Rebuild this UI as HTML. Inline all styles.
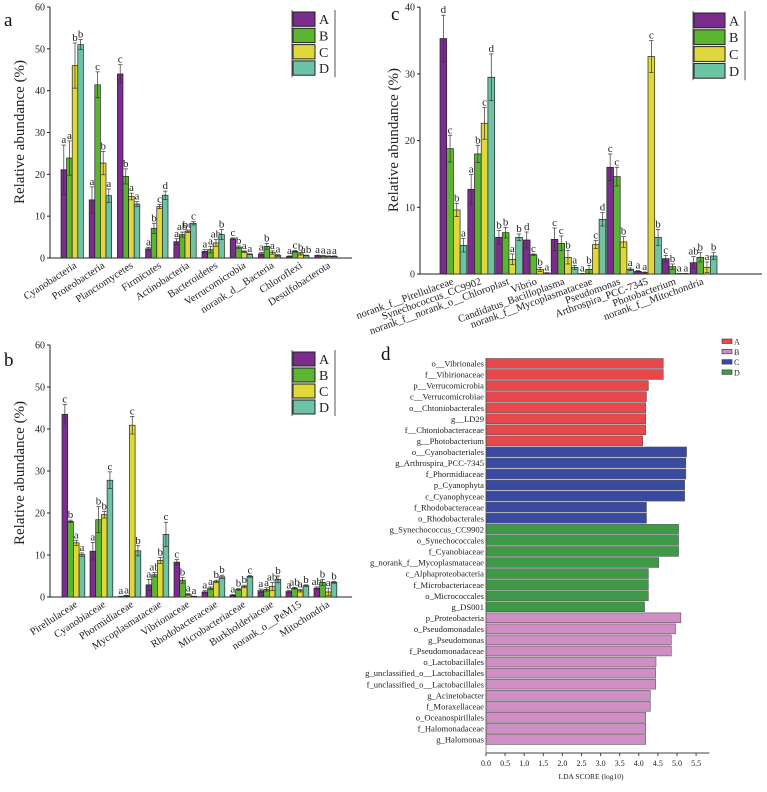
<!DOCTYPE html>
<html><head><meta charset="utf-8"><style>
body{margin:0;background:#fff;}
svg, svg text{font-family:"Liberation Serif","Times New Roman",serif;}
</style></head><body>
<svg id="fig" width="767" height="787" viewBox="0 0 767 787" xmlns="http://www.w3.org/2000/svg" font-family="Liberation Serif, serif">
<rect width="767" height="787" fill="#fff"/>
</svg>
<script>
// ---------- Panel a data ----------
const aCategories=["Cyanobacteria","Proteobacteria","Planctomycetes","Firmicutes","Actinobacteria","Bacteroidetes","Verrucomicrobia","norank_d__Bacteria","Chloroflexi","Desulfobacterota"];
const aValsA=[21.1,13.9,44,2.2,3.9,1.6,4.6,1.0,0.4,0.6];
const aValsB=[23.9,41.4,19.5,7.1,5.6,2.0,2.6,2.8,1.6,0.5];
const aValsC=[46,22.7,14.7,12.3,6.4,3.6,1.5,1.3,1.0,0.4];
const aValsD=[51,14.9,12.9,15,8.3,5.6,0.9,0.6,0.6,0.4];
const aErrA=[27,17,46.2,2.5,4.6,2.0,4.8,1.3,0.5,0.7];
const aErrB=[28,44.5,21.3,8.3,6.2,2.8,2.9,3.5,1.8,0.6];
const aErrC=[51.4,25.5,15.5,12.8,6.7,4.4,1.7,1.7,1.3,0.5];
const aErrD=[52.2,16.5,13.5,16,8.7,6.8,1.0,0.8,0.7,0.5];
const aLetters=[["a","a","b","b"],["a","c","b","a"],["c","b","a","a"],["a","b","c","d"],["a","ab","bc","c"],["a","a","ab","b"],["c","b","a","a"],["a","b","a","a"],["a","c","b","ab"],["a","a","a","a"]];
const aTicks=[0,10,20,30,40,50,60];
// ---------- Panel b data ----------
const bCategories=["Pirellulaceae","Cyanobiaceae","Phormidiaceae","Mycoplasmataceae","Vibrionaceae","Rhodobacteraceae","Microbacteriaceae","Burkholderiaceae","norank_o__PeM15","Mitochondria"];
const bValsA=[43.5,10.9,0.1,2.9,8.3,1.2,0.4,1.5,1.3,2.1];
const bValsB=[18,18.4,0.3,5.3,4.0,2.1,1.8,1.8,2.1,3.5];
const bValsC=[12.9,19.6,40.9,8.7,0.6,3.7,2.5,2.5,1.5,1.2];
const bValsD=[10.1,27.8,11,14.9,0.15,4.8,4.9,4.2,2.7,3.5];
const bErrA=[45.8,13,0.2,4.2,8.9,1.5,0.6,1.9,1.6,2.4];
const bErrB=[18.3,21.5,0.4,5.8,4.7,2.4,2.0,2.2,2.3,4.2];
const bErrC=[13.5,20.4,43,9.4,0.8,4.0,2.8,3.5,1.8,2.1];
const bErrD=[10.5,29.8,12.2,17.8,0.2,5.2,5.1,5.0,2.9,3.7];
const bLetters=[["c","b","a","a"],["a","b","b","c"],["a","a","c","b"],["a","ab","b","c"],["c","b","a","a"],["a","a","b","b"],["a","b","b","c"],["a","a","ab","b"],["a","ab","a","b"],["ab","b","a","b"]];
const bTicks=[0,10,20,30,40,50,60];
// ---------- Panel c data ----------
const cCategories=["norank_f__Pirellulaceae","Synechococcus_CC9902","norank_f__norank_o__Chloroplast","Vibrio","Candidatus_Bacilloplasma","norank_f__Mycoplasmataceae","Pseudomonas","Arthrospira_PCC-7345","Photobacterium","norank_f__Mitochondria"];
const cValsA=[35.3,12.7,5.5,5.1,5.2,0.05,16,0.4,2.3,1.7];
const cValsB=[18.8,18,6.2,2.9,4.6,0.7,14.6,0.2,1.1,2.5];
const cValsC=[9.6,22.6,2.2,0.7,2.5,4.4,4.8,32.6,0.05,1.0];
const cValsD=[4.3,29.5,5.5,0.15,1.0,8.2,0.7,5.5,0.05,2.7];
const cErrA=[38.8,14.9,6.5,6.3,6.9,0.1,18,0.5,2.8,2.6];
const cErrB=[20.8,19.3,7,3.0,5.7,1.3,16,0.3,1.5,3.2];
const cErrC=[10.6,25,3,1.0,3.5,5.0,5.6,35,0.1,1.8];
const cErrD=[5.3,33,6,0.2,1.3,9.2,0.9,6.7,0.1,3.2];
const cLetters=[["d","c","b","a"],["a","b","c","d"],["b","b","a","b"],["d","c","b","a"],["c","c","b","a"],["a","b","c","d"],["c","c","b","a"],["a","a","c","b"],["c","b","a","a"],["ab","b","a","b"]];
const cTicks=[0,10,20,30,40];
// ---------- Panel d data ----------
const dLabels=["o__Vibrionales","f__Vibirionaceae","p__Verrucomicrobia","c__Verrucomicrobiae","o__Chtoniobacterales","g__LD29","f__Chtoniobacteraceae","g__Photobacterium","o__Cyanobacteriales","g_Arthrospira_PCC-7345","f_Phormidiaceae","p_Cyanophyta","c_Cyanophyceae","f_Rhodobacteraceae","o_Rhodobacterales","g_Synechococcus_CC9902","o_Synechococcales","f_Cyanobiaceae","g_norank_f__Mycoplasmataceae","c_Alphaproteobacteria","f_Microbacteriaceae","o_Micrococcales","g_DS001","p_Proteobacteria","o_Pseudomonadales","g_Pseudomonas","f_Pseudomonadaceae","o_Lactobacillales","g_unclassified_o__Lactobacillales","f_unclassified_o__Lactobacillales","g_Acinetobacter","f_Moraxellaceae","o_Oceanospirillales","f_Halomonadaceae","g_Halomonas"];
const dScores=[4.64,4.64,4.25,4.2,4.18,4.18,4.18,4.1,5.25,5.23,5.23,5.2,5.2,4.2,4.2,5.04,5.04,5.04,4.52,4.25,4.25,4.25,4.15,5.1,4.96,4.85,4.85,4.45,4.44,4.44,4.3,4.3,4.18,4.18,4.18];
const dGroups=["A","A","A","A","A","A","A","A","C","C","C","C","C","C","C","D","D","D","D","D","D","D","D","B","B","B","B","B","B","B","B","B","B","B","B"];
const dTicks=[0,0.5,1,1.5,2,2.5,3,3.5,4,4.5,5,5.5];

const NS="http://www.w3.org/2000/svg";
const svg=document.getElementById('fig');
const SERIF='"Liberation Serif", "Times New Roman", serif';
function mk(tag,attrs,parent,txt){const e=document.createElementNS(NS,tag);for(const k in attrs)e.setAttribute(k,attrs[k]);if(txt!==undefined){e.textContent=txt;e.style.fontFamily=SERIF;}(parent||svg).appendChild(e);return e;}
const COLS=["#7b2d8e","#5cb531","#e0d83a","#6cc4a4"];
const GN=["A","B","C","D"];

function barChart(p){
  const g=mk('g',{});
  
  
  const y=v=>p.y0-v*p.ppu;
  const xg=i=>p.first+i*p.sp;
  const ya=mk('line',{x1:p.x0,y1:p.y0,x2:p.x0,y2:y(p.ticks[p.ticks.length-1]),stroke:'#222','stroke-width':1},g);
  
  
  const xa=mk('line',{x1:p.x0,y1:p.y0,x2:p.xEnd,y2:p.y0,stroke:'#222','stroke-width':1},g);
  
  
  p.ticks.forEach(t=>{
    mk('line',{x1:p.x0-3,y1:y(t),x2:p.x0,y2:y(t),stroke:'#222'},g);
    const tl=mk('text',{x:p.x0-5,y:y(t)+3.5,'text-anchor':'end','font-size':10,fill:'#222'},g,String(t));
    
    
  });
  const tt=mk('text',{x:p.titleX,y:p.titleY,'text-anchor':'middle','font-size':15,fill:'#222',transform:`rotate(-90 ${p.titleX} ${p.titleY})`},g,'Relative abundance (%)');
  
  
  const series=[p.A,p.B,p.C,p.D], errs=[p.eA,p.eB,p.eC,p.eD];
  p.cats.forEach((c,i)=>{
    for(let s=0;s<4;s++){
      const v=series[s][i], e=errs[s][i];
      const bx=xg(i)+s*p.bw;
      const r=mk('rect',{x:bx,y:y(v),width:p.bw,height:Math.max(0.3,v*p.ppu),fill:COLS[s],stroke:'#222','stroke-width':0.7},g);
      
      
      const cx=bx+p.bw/2, lo=Math.max(0,v-(e-v));
      mk('line',{x1:cx,y1:y(lo),x2:cx,y2:y(e),stroke:'#333','stroke-width':0.7},g);
      mk('line',{x1:cx-2.2,y1:y(e),x2:cx+2.2,y2:y(e),stroke:'#333','stroke-width':0.7},g);
      mk('line',{x1:cx-2.2,y1:y(lo),x2:cx+2.2,y2:y(lo),stroke:'#333','stroke-width':0.7},g);
      const lt=mk('text',{x:cx,y:y(e)-2,'text-anchor':'middle','font-size':11,fill:'#222'},g,p.letters[i][s]);
      
      
    }
    const lx=xg(i)+p.sp*0.4+p.lblDx, ly=p.y0+p.lblDy;
    const cl=mk('text',{x:lx,y:ly,'text-anchor':'end','font-size':10.5,fill:'#222',transform:`rotate(${p.rot} ${lx} ${ly})`},g,c);
    
    
  });
  const lg=mk('g',{},g);
  
  
  mk('line',{x1:p.lx-1,y1:p.ly-2,x2:p.lx-1,y2:p.ly+4*p.lh,stroke:'#555'},lg);
  mk('line',{x1:p.lx+p.lw+20,y1:p.ly-2,x2:p.lx+p.lw+20,y2:p.ly+4*p.lh,stroke:'#555'},lg);
  for(let s=0;s<4;s++){
    const e=mk('rect',{x:p.lx,y:p.ly+s*p.lh,width:p.lw,height:p.lh-2,fill:COLS[s],stroke:'#222','stroke-width':1},lg);
    
    
    mk('text',{x:p.lx+p.lw+4,y:p.ly+s*p.lh+p.lh/2+4,'font-size':14,fill:'#222'},lg,GN[s]);
  }
  const pl=mk('text',{x:p.pX,y:p.pY,'font-size':19,fill:'#111'},g,p.panel);
  
  
}

barChart({name:'panel-a-chart',panel:'a',pX:4,pY:26,x0:50,xEnd:352,y0:258,ppu:251/60,first:61,sp:28.2,bw:5.6,ticks:aTicks,titleX:24,titleY:132,
  cats:aCategories,A:aValsA,B:aValsB,C:aValsC,D:aValsD,eA:aErrA,eB:aErrB,eC:aErrC,eD:aErrD,letters:aLetters,rot:-33,lblDx:5,lblDy:9,
  lx:293,ly:12,lw:22,lh:16.3});
barChart({name:'panel-b-chart',panel:'b',pX:4,pY:366,x0:50,xEnd:352,y0:597,ppu:4.2,first:62,sp:28,bw:5.7,ticks:bTicks,titleX:24,titleY:473,
  cats:bCategories,A:bValsA,B:bValsB,C:bValsC,D:bValsD,eA:bErrA,eB:bErrB,eC:bErrC,eD:bErrD,letters:bLetters,rot:-33,lblDx:5,lblDy:9,
  lx:293,ly:352,lw:22,lh:16});
barChart({name:'panel-c-chart',panel:'c',pX:391,pY:20,x0:420,xEnd:762,y0:274,ppu:6.67,first:440,sp:27.8,bw:6.7,ticks:cTicks,titleX:398,titleY:140,
  cats:cCategories,A:cValsA,B:cValsB,C:cValsC,D:cValsD,eA:cErrA,eB:cErrB,eC:cErrC,eD:cErrD,letters:cLetters,rot:-20,lblDx:3,lblDy:10,
  lx:694,ly:13,lw:31,lh:16.8});

(function(){
  const DC={A:"#e8474c",B:"#d08fc4",C:"#3a4aa0",D:"#3f9a48"};
  const x0=486, ppu=38.2, top=358, rh=11.06;
  const xs=v=>x0+v*ppu;
  const g=mk('g',{});
  
  
  const pl=mk('text',{x:381,y:360,'font-size':19,fill:'#111'},g,'d');
  
  
  dLabels.forEach((l,i)=>{
    const yy=top+i*rh;
    const r=mk('rect',{x:x0,y:yy+0.5,width:dScores[i]*ppu,height:rh-1.2,fill:DC[dGroups[i]],stroke:'#555','stroke-width':0.6},g);
    
    
    const t=mk('text',{x:x0-2,y:yy+rh-2.5,'text-anchor':'end','font-size':8.6,fill:'#222'},g,l);
    
    
  });
  const ax=mk('line',{x1:x0,y1:753,x2:xs(5.85),y2:753,stroke:'#444'},g);
  
  
  mk('line',{x1:x0,y1:top,x2:x0,y2:753,stroke:'#444','stroke-width':0.6},g);
  dTicks.forEach(t=>{
    mk('line',{x1:xs(t),y1:753,x2:xs(t),y2:756,stroke:'#444'},g);
    const tl=mk('text',{x:xs(t),y:766,'text-anchor':'middle','font-size':8,fill:'#222'},g,t.toFixed(1));
    
    
  });
  const xt=mk('text',{x:xs(2.75),y:779,'text-anchor':'middle','font-size':7.5,fill:'#222'},g,'LDA SCORE (log10)');
  
  
  const lg=mk('g',{},g);
  
  
  ["A","B","C","D"].forEach((k,i)=>{
    const r=mk('rect',{x:722,y:339+i*10.3,width:10,height:4.5,fill:DC[k],stroke:'#333','stroke-width':0.6},lg);
    
    
    mk('text',{x:734,y:344.5+i*10.3,'font-size':8,fill:'#222'},lg,k);
  });
})();
</script>
</body></html>
